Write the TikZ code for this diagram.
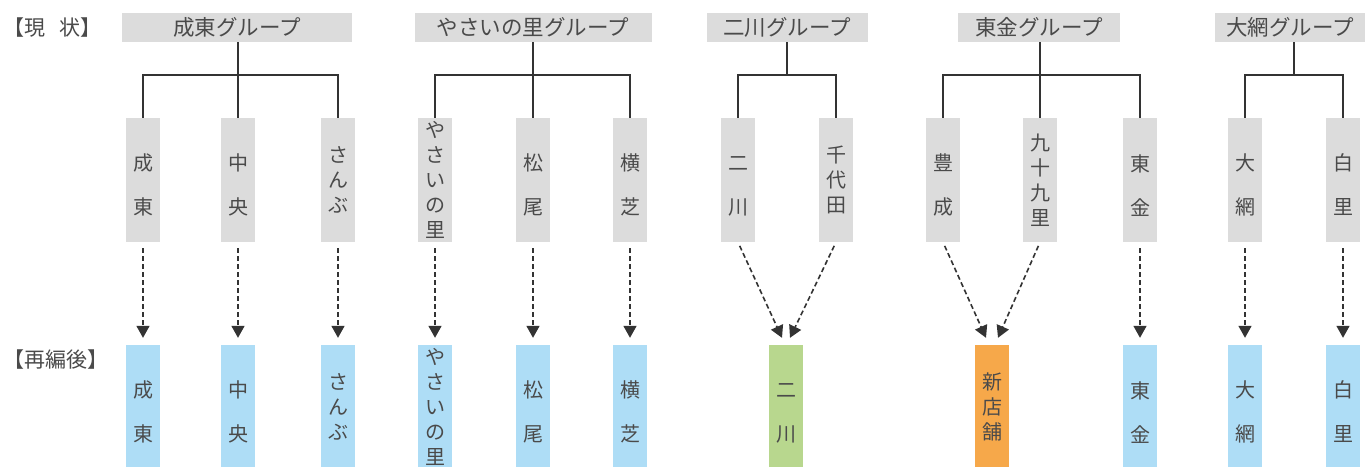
\documentclass[tikz,border=0pt]{standalone}
\usepackage{fontspec}
\newfontfamily\jpf{Noto Sans CJK JP}
\usetikzlibrary{arrows.meta}
\definecolor{hdrgray}{HTML}{DCDCDC}
\definecolor{boxgray}{HTML}{DCDCDC}
\definecolor{blue1}{HTML}{AEDDF6}
\definecolor{green1}{HTML}{B8D78E}
\definecolor{orange1}{HTML}{F6A84A}
\definecolor{txt}{HTML}{4A4A4A}
\definecolor{linec}{HTML}{333333}
\newcommand\tw[2]{\rule{0pt}{27pt}#1\\#2}
\tikzset{
  hdr/.style={fill=hdrgray, minimum height=29pt, inner sep=0pt, text=txt, font=\jpf\fontsize{21.5}{21.5}\selectfont},
  tb/.style={fill=boxgray, minimum width=34pt, minimum height=124pt, inner sep=0pt, align=center, text=txt},
  bb/.style={tb, fill=blue1},
  gb/.style={tb, fill=green1},
  ob/.style={tb, fill=orange1},
  two/.style={font=\jpf\fontsize{20}{44}\selectfont},
  multi/.style={font=\jpf\fontsize{20}{25}\selectfont},
  lbl/.style={anchor=west, inner sep=0pt, text=txt, font=\jpf\fontsize{21}{21}\selectfont},
  br/.style={draw=linec, line width=1.6pt},
  da/.style={draw=linec, line width=1.6pt, dash pattern=on 5pt off 3pt, -{Triangle[width=13pt,length=12pt]}, shorten <=6pt, shorten >=7pt},
  dc/.style={draw=linec, line width=1.6pt, dash pattern=on 5pt off 3pt, -{Triangle[width=13pt,length=12pt]}, shorten <=4pt}
}
\begin{document}
\begin{tikzpicture}[x=1pt,y=-1pt]
\clip (0,0) rectangle (1365,466);
\fill[white] (0,0) rectangle (1365,466);
% left labels
\node[lbl] (now) at (3,28) {【現\ \ \ 状】};
\node[lbl] (after) at (3,360) {【再編後】};
% headers
\node[hdr, minimum width=230pt] (h1) at (237,27.5) {成東グループ};
\node[hdr, minimum width=237pt] (h2) at (533,27.5) {やさいの里グループ};
\node[hdr, minimum width=161pt] (h3) at (787,27.5) {二川グループ};
\node[hdr, minimum width=162pt] (h4) at (1039,27.5) {東金グループ};
\node[hdr, minimum width=150pt] (h5) at (1290,27.5) {大網グループ};
% top boxes
\node[tb, two]   (t1)  at (143,180)  {\tw{成}{東}};
\node[tb, two]   (t2)  at (238,180)  {\tw{中}{央}};
\node[tb, multi] (t3)  at (338,180)  {さ\\ん\\ぶ};
\node[tb, multi] (t4)  at (435,180)  {や\\さ\\い\\の\\里};
\node[tb, two]   (t5)  at (533,180)  {\tw{松}{尾}};
\node[tb, two]   (t6)  at (630,180)  {\tw{横}{芝}};
\node[tb, two]   (t7)  at (738,180)  {\tw{二}{川}};
\node[tb, multi] (t8)  at (836,180)  {千\\代\\田};
\node[tb, two]   (t9)  at (943,180)  {\tw{豊}{成}};
\node[tb, multi] (t10) at (1040,180) {九\\十\\九\\里};
\node[tb, two]   (t11) at (1140,180) {\tw{東}{金}};
\node[tb, two]   (t12) at (1245,180) {\tw{大}{網}};
\node[tb, two]   (t13) at (1343,180) {\tw{白}{里}};
% bottom boxes
\node[bb, two]   (b1)  at (143,407)  {\tw{成}{東}};
\node[bb, two]   (b2)  at (238,407)  {\tw{中}{央}};
\node[bb, multi] (b3)  at (338,407)  {さ\\ん\\ぶ};
\node[bb, multi] (b4)  at (435,407)  {や\\さ\\い\\の\\里};
\node[bb, two]   (b5)  at (533,407)  {\tw{松}{尾}};
\node[bb, two]   (b6)  at (630,407)  {\tw{横}{芝}};
\node[gb, two]   (b7)  at (786,407)  {\tw{二}{川}};
\node[ob, multi] (b8)  at (992,407)  {新\\店\\舗};
\node[bb, two]   (b9)  at (1140,407) {\tw{東}{金}};
\node[bb, two]   (b10) at (1245,407) {\tw{大}{網}};
\node[bb, two]   (b11) at (1343,407) {\tw{白}{里}};
% junctions
\coordinate (j1) at (238,75);
\coordinate (j2) at (533,75);
\coordinate (j3) at (787,75);
\coordinate (j4) at (1040,75);
\coordinate (j5) at (1294,75);
% branches
\draw[br] (j1 |- h1.south) -- (j1);
\draw[br] (t1.north) |- (j1) -| (t3.north);
\draw[br] (j1) -- (t2.north);
\draw[br] (j2 |- h2.south) -- (j2);
\draw[br] (t4.north) |- (j2) -| (t6.north);
\draw[br] (j2) -- (t5.north);
\draw[br] (j3 |- h3.south) -- (j3);
\draw[br] (t7.north) |- (j3) -| (t8.north);
\draw[br] (j4 |- h4.south) -- (j4);
\draw[br] (t9.north) |- (j4) -| (t11.north);
\draw[br] (j4) -- (t10.north);
\draw[br] (j5 |- h5.south) -- (j5);
\draw[br] (t12.north) |- (j5) -| (t13.north);
% arrows
\draw[da] (t1) -- (b1);
\draw[da] (t2) -- (b2);
\draw[da] (t3) -- (b3);
\draw[da] (t4) -- (b4);
\draw[da] (t5) -- (b5);
\draw[da] (t6) -- (b6);
\draw[da] (t11) -- (b9);
\draw[da] (t12) -- (b10);
\draw[da] (t13) -- (b11);
\coordinate (c7a) at ([xshift=-4pt,yshift=7pt]b7.north);
\coordinate (c7b) at ([xshift=4pt,yshift=7pt]b7.north);
\coordinate (c8a) at ([xshift=-6pt,yshift=7pt]b8.north);
\coordinate (c8b) at ([xshift=6pt,yshift=7pt]b8.north);
\draw[dc] (t7.south) -- (c7a);
\draw[dc] (t8.south) -- (c7b);
\draw[dc] (t9.south) -- (c8a);
\draw[dc] (t10.south) -- (c8b);
\end{tikzpicture}
\end{document}
